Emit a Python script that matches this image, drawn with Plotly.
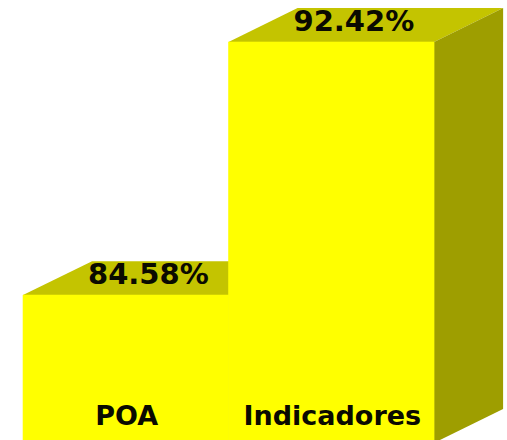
import plotly.graph_objects as go

categories = ["POA", "Indicadores"]
values = [84.58, 92.42]
value_labels = ["84.58%", "92.42%"]
baseline = 80.0

FRONT, TOP, SIDE = "#FFFF00", "#C4C400", "#9E9E00"
DX, DY = 0.336, 1.05   # depth of the 3D extrusion, in axis units
FONT = "DejaVu Sans"

fig = go.Figure()

def poly(xs, ys, color, lw=0):
    fig.add_trace(go.Scatter(x=xs, y=ys, mode="lines", fill="toself", fillcolor=color,
                             line=dict(width=lw, color=color), hoverinfo="skip", showlegend=False))

# back to front, left to right so the taller bar hides the shorter one
for i, v in enumerate(values):
    l, r = i - 0.5, i + 0.5
    poly([l, l + DX, r + DX, r, l], [v, v + DY, v + DY, v, v], TOP)
    poly([r, r + DX, r + DX, r, r], [v, v + DY, baseline + DY, baseline, v], SIDE)
    poly([l, r, r, l, l], [baseline, baseline, v, v, baseline], FRONT, 0.6)

fig.add_trace(go.Scatter(
    x=[i + 0.11 for i in range(len(values))],
    y=[v + DY * 0.55 for v in values],
    mode="text", text=value_labels, textposition="middle center",
    textfont=dict(family=FONT, size=29, color="#0A0A00", weight="bold"),
    hoverinfo="skip", showlegend=False))

fig.add_trace(go.Scatter(
    x=[0.005, 1.005],
    y=[baseline + 0.76] * 2,
    mode="text", text=categories, textposition="middle center",
    textfont=dict(family=FONT, size=27, color="#0A0A00", weight="bold"),
    hoverinfo="skip", showlegend=False))

fig.update_layout(
    width=507, height=440, margin=dict(l=0, r=0, t=0, b=0),
    paper_bgcolor="white", plot_bgcolor="white", showlegend=False,
    xaxis=dict(range=[-0.612, 1.855], visible=False, fixedrange=True),
    yaxis=dict(range=[80.09, 93.72], visible=False, fixedrange=True),
)
fig.write_html("out.html", config=dict(displayModeBar=False),
               post_script="document.body.style.margin='0';document.documentElement.style.overflow='hidden';")
